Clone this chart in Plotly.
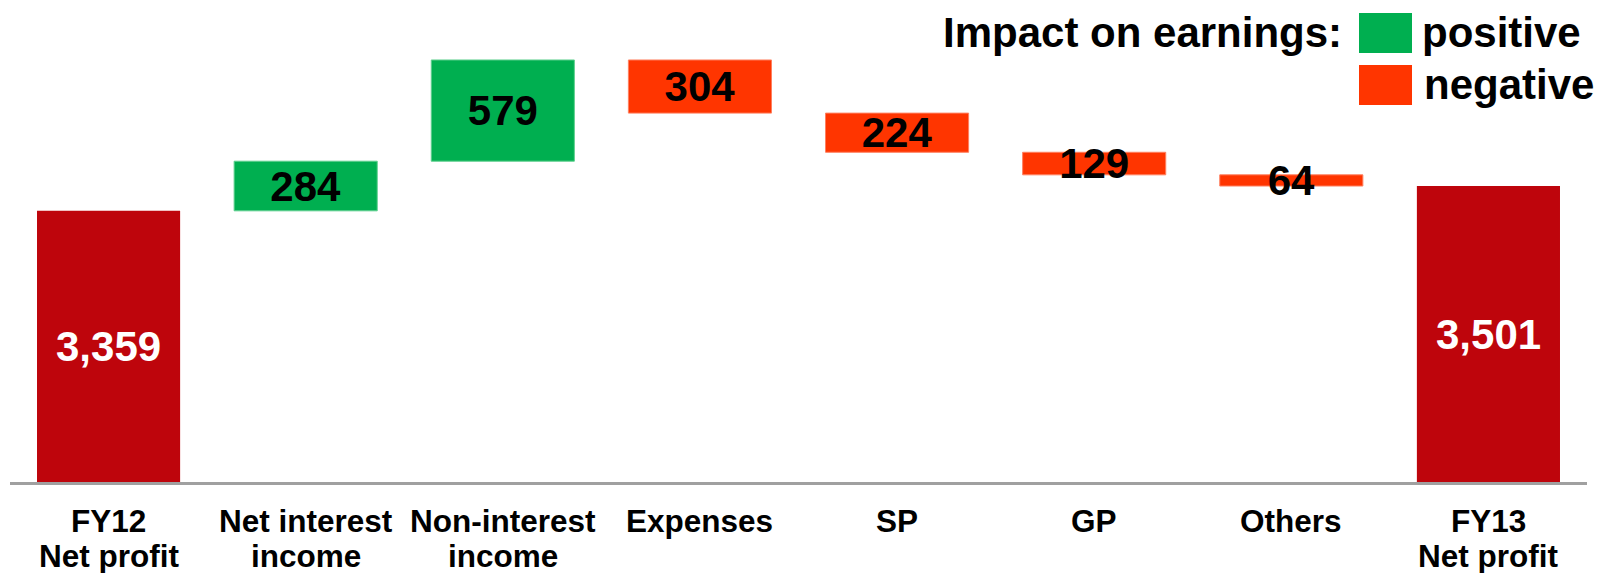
import plotly.graph_objects as go

cat_line1 = ["FY12", "Net interest", "Non-interest", "Expenses", "SP", "GP", "Others", "FY13"]
cat_line2 = ["Net profit", "income", "income", "", "", "", "", "Net profit"]
categories = [(a + " " + b).strip() for a, b in zip(cat_line1, cat_line2)]
values = [3359, 284, 579, -304, -224, -129, -64, 3501]
measures = ["absolute", "relative", "relative", "relative", "relative", "relative", "relative", "total"]
labels = ["3,359", "284", "579", "304", "224", "129", "64", "3,501"]

DARK_RED = "#BE050C"
GREEN = "#00AF50"
ORANGE = "#FF3500"
FONT = "Liberation Sans, Arial, sans-serif"

W, H = 1599, 573
ML, MR, MT, MB = 10, 12, 0, 91
PW, PH = W - ML - MR, H - MT - MB
Y_MIN, Y_MAX = 1808, 4565

is_total = [m != "relative" for m in measures]
bar_text = ["" if t else lab for t, lab in zip(is_total, labels)]

fig = go.Figure(go.Waterfall(
    x=categories,
    y=values,
    measure=measures,
    text=bar_text,
    textposition="inside",
    insidetextanchor="middle",
    textangle=0,
    textfont=dict(family=FONT, size=42, color="black", weight="bold"),
    increasing=dict(marker=dict(color=GREEN, line=dict(color="#5fd08f", width=1))),
    decreasing=dict(marker=dict(color=ORANGE, line=dict(color="#ff8060", width=1))),
    totals=dict(marker=dict(color=DARK_RED, line=dict(width=0))),
    connector=dict(visible=False),
    hoverinfo="skip",
    cliponaxis=False,
))

def px_x(px):
    return (px - ML) / PW

def px_y(py):
    return (H - MB - py) / PH

annotations = []
# totals labels, centred in the visible part of the bar
for cat, v, lab, t in zip(categories, values, labels, is_total):
    if t:
        annotations.append(dict(
            text="<b>" + lab + "</b>", x=cat, y=(Y_MIN + v) / 2, xref="x", yref="y",
            showarrow=False, xanchor="center", yanchor="middle",
            font=dict(family=FONT, size=42, color="white")))

# category labels (two lines, tight spacing)
for cat, l1, l2 in zip(categories, cat_line1, cat_line2):
    annotations.append(dict(
        text="<b>" + l1 + "</b>", x=cat, y=px_y(521), xref="x", yref="paper",
        showarrow=False, xanchor="center", yanchor="middle",
        font=dict(family=FONT, size=31.5, color="black")))
    if l2:
        annotations.append(dict(
            text="<b>" + l2 + "</b>", x=cat, y=px_y(556), xref="x", yref="paper",
            showarrow=False, xanchor="center", yanchor="middle",
            font=dict(family=FONT, size=31.5, color="black")))

legend_items = [
    dict(text="<b>Impact on earnings:</b>", x=px_x(1344), y=px_y(33), xanchor="right"),
    dict(text="<b>positive</b>", x=px_x(1420), y=px_y(33), xanchor="left"),
    dict(text="<b>negative</b>", x=px_x(1422), y=px_y(84), xanchor="left"),
]
for a in legend_items:
    a.update(xref="paper", yref="paper", showarrow=False, yanchor="middle",
             font=dict(family=FONT, size=42, color="black"))
annotations += legend_items

shapes = [
    dict(type="rect", xref="paper", yref="paper", x0=px_x(1359), x1=px_x(1412),
         y0=px_y(53), y1=px_y(13), fillcolor=GREEN, line=dict(width=0)),
    dict(type="rect", xref="paper", yref="paper", x0=px_x(1359), x1=px_x(1412),
         y0=px_y(105), y1=px_y(65), fillcolor=ORANGE, line=dict(width=0)),
]

fig.update_layout(
    width=W, height=H,
    margin=dict(l=ML, r=MR, t=MT, b=MB, pad=0),
    paper_bgcolor="white", plot_bgcolor="white",
    showlegend=False,
    waterfallgap=0.274,
    uniformtext=dict(minsize=42, mode="show"),
    annotations=annotations,
    shapes=shapes,
    xaxis=dict(
        showline=True, linecolor="#A0A0A0", linewidth=3,
        showgrid=False, zeroline=False, showticklabels=False, ticks="",
    ),
    yaxis=dict(range=[Y_MIN, Y_MAX], visible=False, showgrid=False, zeroline=False, fixedrange=True),
)

fig.write_html(
    "out.html",
    config={"displayModeBar": False},
    post_script="document.body.style.margin='0';document.body.style.overflow='hidden';",
)
